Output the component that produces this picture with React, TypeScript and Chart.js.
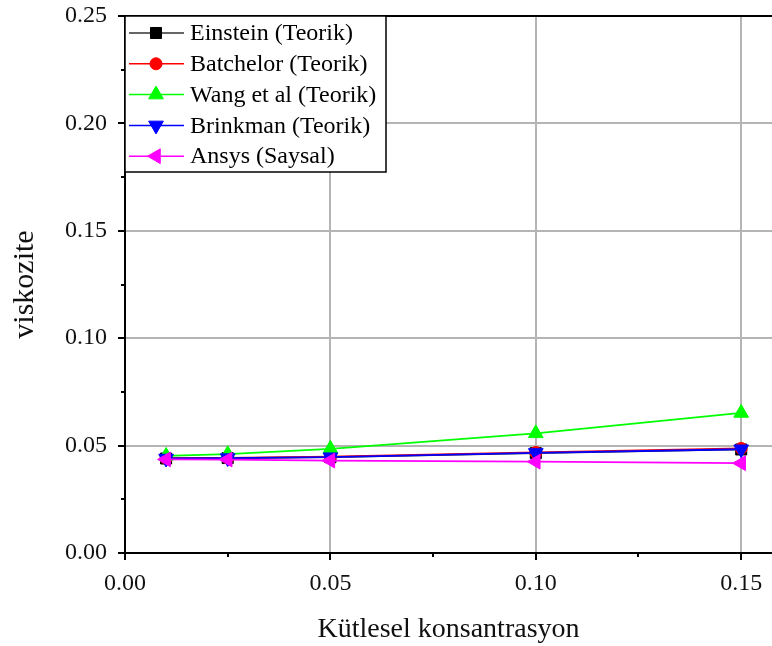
import React, { useEffect, useRef } from "react";
import { Chart, registerables } from "chart.js";

Chart.register(...registerables);

const concentration = [0.01, 0.025, 0.05, 0.10, 0.15];
const einstein = [0.0440, 0.0442, 0.0446, 0.0465, 0.0482];
const batchelor = [0.0441, 0.0443, 0.0448, 0.0468, 0.0487];
const wang = [0.0452, 0.0460, 0.0485, 0.0557, 0.0652];
const brinkman = [0.0440, 0.0442, 0.0446, 0.0466, 0.0483];
const ansys = [0.0436, 0.0435, 0.0430, 0.0425, 0.0418];

const seriesNames = ["Einstein (Teorik)", "Batchelor (Teorik)", "Wang et al (Teorik)", "Brinkman (Teorik)", "Ansys (Saysal)"];
const xMajorTicks = [0, 0.05, 0.10, 0.15];
const xMinorTicks = [0.025, 0.075, 0.125];
const yMajorTicks = [0, 0.05, 0.10, 0.15, 0.20, 0.25];
const yMinorTicks = [0.025, 0.075, 0.125, 0.175, 0.225];
const xTitle = "Kütlesel konsantrasyon";
const yTitle = "viskozite";

const FONT = "'Liberation Serif', 'Times New Roman', serif";

type Style = { line: string; fill: string; shape: string; rot: number; r: number };
const styles: Style[] = [
  { line: "#333333", fill: "#000000", shape: "rect", rot: 0, r: 7.8 },
  { line: "#ff0000", fill: "#ff0000", shape: "circle", rot: 0, r: 6 },
  { line: "#00ff00", fill: "#00ff00", shape: "triangle", rot: 0, r: 8.5 },
  { line: "#0000ff", fill: "#0000ff", shape: "triangle", rot: 180, r: 8.5 },
  { line: "#ff00ff", fill: "#ff00ff", shape: "triangle", rot: -90, r: 8.5 },
];
const seriesData = [einstein, batchelor, wang, brinkman, ansys];
const drawOrder = [4, 3, 2, 1, 0];

function drawMarker(ctx: CanvasRenderingContext2D, s: Style, x: number, y: number) {
  ctx.save();
  ctx.fillStyle = s.fill;
  ctx.strokeStyle = s.fill;
  ctx.lineWidth = 1;
  ctx.beginPath();
  if (s.shape === "rect") {
    const h = s.r * Math.SQRT1_2;
    ctx.rect(x - h, y - h, 2 * h, 2 * h);
  } else if (s.shape === "circle") {
    ctx.arc(x, y, s.r, 0, Math.PI * 2);
  } else {
    let rad = (s.rot * Math.PI) / 180;
    for (let i = 0; i < 3; i++) {
      const px = x + Math.sin(rad) * s.r;
      const py = y - Math.cos(rad) * s.r;
      if (i === 0) ctx.moveTo(px, py);
      else ctx.lineTo(px, py);
      rad += (2 * Math.PI) / 3;
    }
    ctx.closePath();
  }
  ctx.fill();
  ctx.stroke();
  ctx.restore();
}

const framePlugin = {
  id: "frame",
  afterDatasetsDraw(chart: any) {
    const ctx: CanvasRenderingContext2D = chart.ctx;
    const { left, right, top, bottom } = chart.chartArea;
    const xs = chart.scales.x;
    const ys = chart.scales.y;
    ctx.save();
    // minor ticks
    ctx.strokeStyle = "#000";
    ctx.lineWidth = 2;
    ctx.beginPath();
    for (const v of xMinorTicks) {
      const px = Math.round(xs.getPixelForValue(v));
      ctx.moveTo(px, bottom);
      ctx.lineTo(px, bottom + 4);
    }
    for (const v of yMinorTicks) {
      const py = Math.round(ys.getPixelForValue(v));
      ctx.moveTo(left, py);
      ctx.lineTo(left - 4, py);
    }
    ctx.stroke();
    // top border
    ctx.beginPath();
    ctx.moveTo(left - 1, top);
    ctx.lineTo(right, top);
    ctx.stroke();

    // legend
    const lx = left;
    const ly = top;
    const lw = 261;
    const lh = 156;
    ctx.fillStyle = "#ffffff";
    ctx.fillRect(lx, ly, lw, lh);
    ctx.strokeStyle = "#000";
    ctx.lineWidth = 1.5;
    ctx.strokeRect(lx, ly, lw, lh);
    ctx.font = `24px ${FONT}`;
    ctx.textBaseline = "middle";
    ctx.textAlign = "left";
    for (let i = 0; i < seriesNames.length; i++) {
      const y = ly + 17 + i * 30.8;
      const s = styles[i];
      ctx.strokeStyle = s.line;
      ctx.lineWidth = 1.5;
      ctx.beginPath();
      ctx.moveTo(lx + 4, y);
      ctx.lineTo(lx + 59, y);
      ctx.stroke();
      drawMarker(ctx, s, lx + 31, y);
      ctx.fillStyle = "#000";
      ctx.fillText(seriesNames[i], lx + 65, y + 1);
    }
    ctx.restore();
  },
};

export default function App() {
  const ref = useRef<HTMLCanvasElement>(null);
  useEffect(() => {
    if (!ref.current) return;
    const datasets = seriesNames.map((name, i) => ({
      label: name,
      data: concentration.map((x, j) => ({ x, y: seriesData[i][j] })),
      borderColor: styles[i].line,
      backgroundColor: styles[i].fill,
      pointBackgroundColor: styles[i].fill,
      pointBorderColor: styles[i].fill,
      pointBorderWidth: 1,
      pointStyle: styles[i].shape,
      pointRotation: styles[i].rot,
      pointRadius: styles[i].r,
      borderWidth: 1.8,
      order: drawOrder[i],
      tension: 0,
    }));
    const chart = new Chart(ref.current, {
      type: "line",
      data: { datasets },
      plugins: [framePlugin],
      options: {
        animation: false,
        responsive: false,
        maintainAspectRatio: false,
        layout: { autoPadding: false, padding: { top: 16, right: 0, left: 0, bottom: 0 } },
        plugins: { legend: { display: false }, tooltip: { enabled: false } },
        scales: {
          x: {
            type: "linear",
            min: 0,
            max: 0.1575,
            afterBuildTicks: (scale: any) => {
              scale.ticks = xMajorTicks.map((v) => ({ value: v }));
            },
            afterFit: (scale: any) => {
              scale.height = 93;
              scale.paddingLeft = 0;
              scale.paddingRight = 0;
            },
            ticks: {
              callback: (v: any) => Number(v).toFixed(2),
              font: { family: FONT, size: 24 },
              color: "#111",
              padding: 9,
              maxRotation: 0,
              autoSkip: false,
            },
            grid: {
              color: (c: any) => (c.tick && c.tick.value === 0 ? "rgba(0,0,0,0)" : "#b4b4b4"),
              lineWidth: 2,
              drawTicks: true,
              tickLength: 7,
              tickColor: "#000",
              tickWidth: 2,
            },
            border: { display: true, color: "#000", width: 2 },
            title: {
              display: true,
              text: xTitle,
              font: { family: FONT, size: 28 },
              color: "#111",
              padding: { top: 0, bottom: 0 },
            },
          },
          y: {
            type: "linear",
            min: 0,
            max: 0.25,
            afterBuildTicks: (scale: any) => {
              scale.ticks = yMajorTicks.map((v) => ({ value: v }));
            },
            afterFit: (scale: any) => {
              scale.width = 125;
              scale.paddingTop = 0;
              scale.paddingBottom = 0;
            },
            ticks: {
              callback: (v: any) => Number(v).toFixed(2),
              font: { family: FONT, size: 24 },
              color: "#111",
              padding: 11,
              autoSkip: false,
            },
            grid: {
              color: (c: any) =>
                c.tick && (c.tick.value === 0 || c.tick.value === 0.25) ? "rgba(0,0,0,0)" : "#b4b4b4",
              lineWidth: 2,
              drawTicks: true,
              tickLength: 7,
              tickColor: "#000",
              tickWidth: 2,
            },
            border: { display: true, color: "#000", width: 2 },
            title: {
              display: true,
              text: yTitle,
              font: { family: FONT, size: 30 },
              color: "#111",
              padding: { top: 7, bottom: 0 },
            },
          },
        },
      } as any,
    });
    return () => chart.destroy();
  }, []);
  return (
    <div style={{ position: "fixed", left: 0, top: 0, width: 772, height: 646, background: "#fff" }}>
      <canvas ref={ref} width={772} height={646} style={{ display: "block", width: 772, height: 646 }} />
    </div>
  );
}
